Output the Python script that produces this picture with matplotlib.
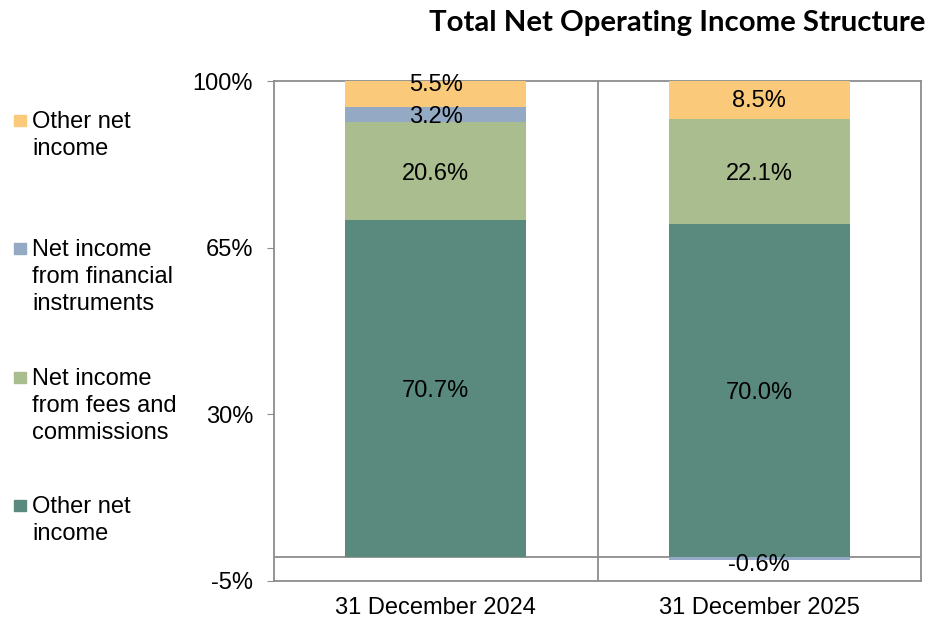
import numpy as np
import matplotlib.pyplot as plt
from matplotlib.patches import Rectangle

# Datos del gráfico
fechas = ['31 December 2024', '31 December 2025']
otros_ingresos = [70.7, 70.0]          # segmento inferior (verde oscuro)
comisiones = [20.6, 22.1]              # verde claro
instrumentos = [3.2, -0.6]             # azul
otros_netos = [5.5, 8.5]               # naranja

etiquetas_leyenda = ['Other net\nincome',
                     'Net income\nfrom financial\ninstruments',
                     'Net income\nfrom fees and\ncommissions',
                     'Other net\nincome']
colores = ['#FBC97A', '#94AAC4', '#A9BD8F', '#5A8A7E']
ticks_y = [-5, 30, 65, 100]

plt.rcParams['font.family'] = ['Liberation Sans', 'DejaVu Sans']

fig = plt.figure(figsize=(9.39, 6.18), dpi=100)
ax = fig.add_axes([274 / 939, 37.3 / 618, 647 / 939, 499.7 / 618])

x = np.arange(len(fechas))
ancho = 0.56
gris = '#8C8C8C'
fs = 17

series = [otros_ingresos, comisiones, instrumentos, otros_netos]
col_series = ['#5A8A7E', '#A9BD8F', '#94AAC4', '#FBC97A']

pos = np.zeros(len(fechas))
neg = np.zeros(len(fechas))
for vals, c in zip(series, col_series):
    vals = np.array(vals)
    base = np.where(vals >= 0, pos, neg)
    ax.bar(x, vals, ancho, bottom=base, color=c, zorder=3)
    for i, v in enumerate(vals):
        if v >= 0:
            yc = base[i] + v / 2
            if base[i] + v > 100 - 0.01 and v < 6:
                yc = 99.6
        else:
            yc = base[i] + v - 0.6
        ax.text(x[i], yc, f'{v:.1f}%', ha='center', va='center_baseline',
                fontsize=fs, color='black', zorder=5)
    pos = np.where(vals >= 0, pos + vals, pos)
    neg = np.where(vals < 0, neg + vals, neg)

ax.set_xlim(-0.5, 1.5)
ax.set_ylim(-5, 100)
ax.set_yticks(ticks_y)
ax.set_yticklabels([f'{t}%' for t in ticks_y], fontsize=fs)
ax.set_xticks(x)
ax.set_xticklabels(fechas, fontsize=fs)
ax.tick_params(axis='x', length=0, pad=12)
ax.tick_params(axis='y', length=5, color=gris, pad=10)

for s in ax.spines.values():
    s.set_color(gris)
    s.set_linewidth(1.3)
ax.axhline(0, color=gris, lw=1.3, zorder=2)
ax.axvline(0.5, color=gris, lw=1.3, zorder=2)

# Título
fig.text(925 / 939, 1 - 23 / 618, 'Total Net Operating Income Structure',
         ha='right', va='center', fontsize=21.2, fontweight='bold',
         family=['Lato', 'DejaVu Sans'])

# Leyenda manual
y_leyenda = [121, 249, 378, 506]
for yl, lab, c in zip(y_leyenda, etiquetas_leyenda, colores):
    fig.add_artist(Rectangle((14 / 939, 1 - (yl + 5) / 618), 12 / 939, 11 / 618,
                             transform=fig.transFigure, color=c))
    fig.text(32 / 939, 1 - (yl - 10) / 618, lab, ha='left', va='top',
             fontsize=fs, linespacing=1.3)

fig.savefig('out.png', dpi=100)
